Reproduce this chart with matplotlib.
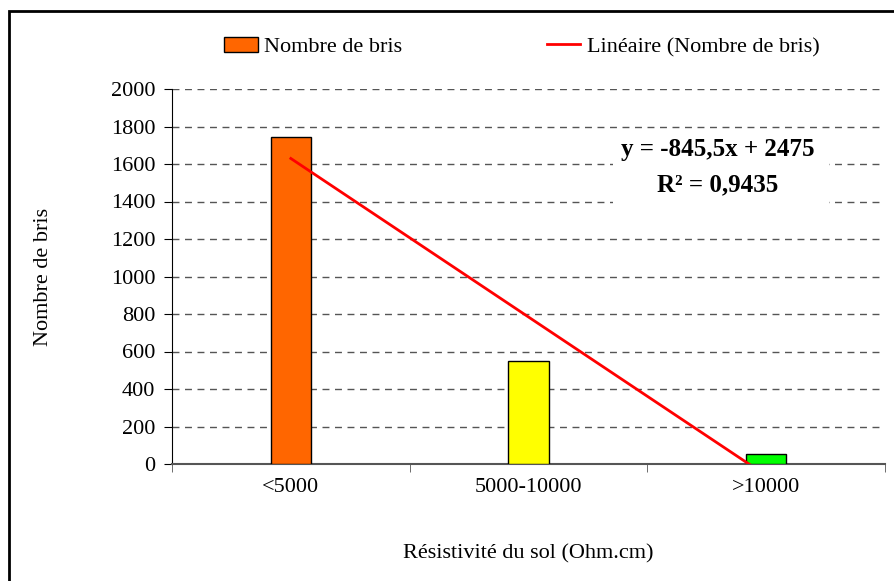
import numpy as np
import matplotlib.pyplot as plt
from matplotlib.patches import Rectangle, Patch
from matplotlib.lines import Line2D

categories = ['<5000', '5000-10000', '>10000']
bris = [1745, 550, 55]
bar_colors = ['#FF6600', '#FFFF00', '#00FF00']
slope, intercept = -845.5, 2475
r2 = '0,9435'

plt.rcParams['font.family'] = ['Liberation Serif', 'DejaVu Serif']
plt.rcParams['font.size'] = 16

fig = plt.figure(figsize=(8.94, 5.81), dpi=100)
ax = fig.add_axes([172/894, 1-464/581, 713/894, 375/581])

x = np.arange(1, len(categories) + 1)
ax.bar(x, bris, width=0.17, color=bar_colors, edgecolor='black', linewidth=1, zorder=3)

xt = np.array([1, 3])
ax.plot(xt, slope*xt + intercept, color='#FF0000', lw=2, zorder=4)

ax.set_xlim(0.5, 3.5)
ax.set_ylim(0, 2000)
ax.set_yticks(range(0, 2001, 200))
ax.yaxis.grid(True, color='#555555', linestyle=(0, (5, 4)), linewidth=1)
ax.set_axisbelow(True)

ax.set_xticks(x)
ax.set_xticklabels(categories)
ax.set_xticks([0.5, 1.5, 2.5, 3.5], minor=True)
ax.tick_params(axis='x', which='major', length=0, pad=10)
ax.tick_params(axis='x', which='minor', length=6, direction='out', color='#555555')
ax.tick_params(axis='y', length=6, direction='out', pad=6)

for s in ['top', 'right']:
    ax.spines[s].set_visible(False)
ax.spines['bottom'].set_color('#555555')
ax.spines['bottom'].set_linewidth(1.5)
ax.spines['left'].set_color('black')

ax.set_ylabel('Nombre de bris', labelpad=42)
ax.set_xlabel('Résistivité du sol (Ohm.cm)', labelpad=34)

# white box behind the trendline equation (hides the gridlines)
ax.add_patch(Rectangle((2.355, 1380), 0.91, 380, facecolor='white',
                       edgecolor='none', zorder=2.5))
ax.text(2.795, 1675, 'y = -845,5x + 2475', ha='center', va='center',
        fontsize=18, fontweight='bold', zorder=5)
ax.text(2.795, 1490, 'R² = ' + r2, ha='center', va='center',
        fontsize=18, fontweight='bold', zorder=5)

handles = [Patch(facecolor=bar_colors[0], edgecolor='black', linewidth=1),
           Line2D([0], [0], color='#FF0000', lw=2)]
fig.legend(handles, ['Nombre de bris', 'Linéaire (Nombre de bris)'],
           loc='center', bbox_to_anchor=(522/894, 1-47/581), ncol=2,
           frameon=False, columnspacing=6.5, handlelength=1.5, handletextpad=0.3)

fig.patches.append(Rectangle((9/894, -0.1), 1.2, 1 - 11/581 + 0.1,
                             transform=fig.transFigure, fill=False,
                             edgecolor='black', linewidth=2))

fig.savefig('out.png', dpi=100)
